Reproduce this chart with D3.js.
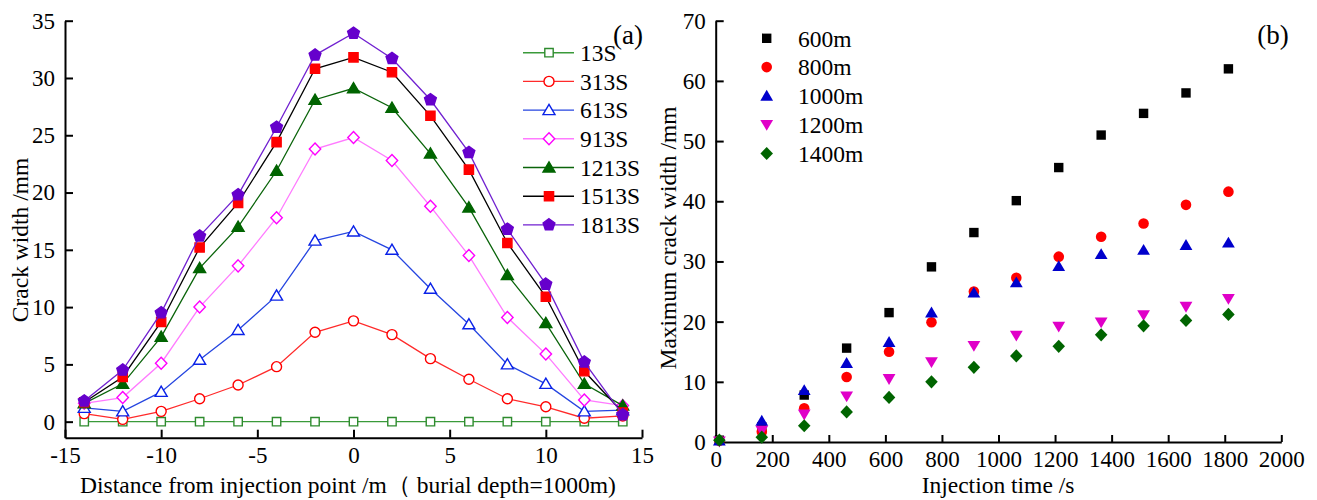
<!DOCTYPE html>
<html>
<head>
<meta charset="utf-8">
<script src="https://cdn.jsdelivr.net/npm/d3@7"></script>
<style>
  html, body { margin: 0; padding: 0; background: #fff; }
  svg text { font-family: "Liberation Serif", "Times New Roman", serif; fill: #000; }
</style>
</head>
<body>
<svg id="chart" width="1317" height="500"></svg>
<script>
// ---------- Data (a) ----------
const distance = [-14, -12, -10, -8, -6, -4, -2, 0, 2, 4, 6, 8, 10, 12, 14];
const w13S   = [0, 0, 0, 0, 0, 0, 0, 0, 0, 0, 0, 0, 0, 0, 0];
const w313S  = [0.7, 0.2, 0.9, 2.0, 3.2, 4.8, 7.8, 8.8, 7.6, 5.5, 3.7, 2.0, 1.3, 0.3, 0.5];
const w613S  = [1.2, 0.9, 2.6, 5.4, 8.0, 11.0, 15.8, 16.6, 15.0, 11.6, 8.5, 5.0, 3.3, 0.9, 1.0];
const w913S  = [1.6, 2.1, 5.1, 10.0, 13.6, 17.8, 23.8, 24.8, 22.8, 18.8, 14.5, 9.1, 5.9, 1.9, 1.4];
const w1213S = [1.6, 3.3, 7.4, 13.4, 17.0, 21.9, 28.1, 29.1, 27.4, 23.4, 18.7, 12.8, 8.6, 3.3, 1.4];
const w1513S = [1.7, 3.9, 8.7, 15.2, 19.1, 24.4, 30.8, 31.8, 30.5, 26.7, 22.0, 15.6, 10.9, 4.4, 0.8];
const w1813S = [1.8, 4.5, 9.5, 16.2, 19.8, 25.7, 32.0, 33.9, 31.7, 28.1, 23.5, 16.8, 12.0, 5.2, 0.6];
const seriesNamesA = ["13S", "313S", "613S", "913S", "1213S", "1513S", "1813S"];
const xTicksA = [-15, -10, -5, 0, 5, 10, 15];
const yTicksA = [0, 5, 10, 15, 20, 25, 30, 35];

// ---------- Data (b) ----------
const timeS  = [13, 163, 313, 463, 613, 763, 913, 1063, 1213, 1363, 1513, 1663, 1813];
const d600   = [0.3, 2.5, 7.8, 15.6, 21.5, 29.1, 34.8, 40.1, 45.6, 51.0, 54.6, 58.0, 62.0];
const d800   = [0.2, 1.7, 5.6, 10.8, 15.0, 19.9, 25.0, 27.3, 30.8, 34.1, 36.3, 39.4, 41.6];
const d1000  = [0.2, 3.5, 8.6, 13.1, 16.6, 21.5, 24.8, 26.5, 29.2, 31.2, 31.9, 32.7, 33.1];
const d1200  = [0.1, 1.9, 4.6, 7.6, 10.5, 13.3, 16.0, 17.7, 19.2, 19.9, 21.1, 22.5, 23.8];
const d1400  = [0.3, 0.8, 2.7, 5.0, 7.4, 10.0, 12.4, 14.3, 15.9, 17.8, 19.3, 20.2, 21.2];
const seriesNamesB = ["600m", "800m", "1000m", "1200m", "1400m"];
const xTicksB = [0, 200, 400, 600, 800, 1000, 1200, 1400, 1600, 1800, 2000];
const yTicksB = [0, 10, 20, 30, 40, 50, 60, 70];

// ---------- Styles ----------
const stylesA = [
  { line: "#3a9a3a", stroke: "#2e8b2e", fill: "#fff",    shape: "square",   size: 4.2 },
  { line: "#ff2a2a", stroke: "#ff0000", fill: "#fff",    shape: "circle",   size: 5.0 },
  { line: "#2545e0", stroke: "#0a22e8", fill: "#fff",    shape: "triangle", size: 6.0 },
  { line: "#ff7aff", stroke: "#ff00ff", fill: "#fff",    shape: "diamond",  size: 6.0 },
  { line: "#0a640a", stroke: "#006400", fill: "#006400", shape: "triangle", size: 6.0 },
  { line: "#000000", stroke: "#ff0000", fill: "#ff0000", shape: "square",   size: 4.6 },
  { line: "#7020d0", stroke: "#6600cc", fill: "#6600cc", shape: "pentagon", size: 6.2 }
];
const stylesB = [
  { color: "#000000", shape: "square",   size: 4.7 },
  { color: "#ff0000", shape: "circle",   size: 5.3 },
  { color: "#0000cc", shape: "triangle", size: 6.4 },
  { color: "#e000c8", shape: "invtri",   size: 6.4 },
  { color: "#006400", shape: "diamond",  size: 6.6 }
];

function shapePath(shape, s) {
  let pts;
  switch (shape) {
    case "square":
      return `M${-s},${-s}H${s}V${s}H${-s}Z`;
    case "circle":
      return `M${s},0A${s},${s} 0 1,1 ${-s},0A${s},${s} 0 1,1 ${s},0Z`;
    case "triangle":
      pts = [[0, -s * 0.95], [s, s * 0.75], [-s, s * 0.75]]; break;
    case "invtri":
      pts = [[0, s * 0.95], [s, -s * 0.75], [-s, -s * 0.75]]; break;
    case "diamond":
      pts = [[0, -s], [s * 0.95, 0], [0, s], [-s * 0.95, 0]]; break;
    case "pentagon":
      pts = d3.range(5).map(k => {
        const a = (-90 + k * 72) * Math.PI / 180;
        return [s * Math.cos(a), s * Math.sin(a)];
      });
      break;
  }
  return "M" + pts.map(p => p[0].toFixed(2) + "," + p[1].toFixed(2)).join("L") + "Z";
}

const svg = d3.select("#chart");
const FONT = 23.5;
const TICKFONT = 23;

// ================= Chart (a) =================
const seriesA = [w13S, w313S, w613S, w913S, w1213S, w1513S, w1813S];
const xA = d3.scaleLinear().domain([-15, 15]).range([65, 642]);
const yA = d3.scaleLinear().domain([-1.4, 35]).range([437.7, 20.7]);

const gA = svg.append("g");
const axisXA = d3.axisBottom(xA).tickValues(xTicksA).tickSizeInner(-8).tickSizeOuter(0).tickPadding(9)
  .tickFormat(d => d < 0 ? "-" + Math.abs(d) : String(d));
gA.append("g").attr("transform", `translate(0,${yA(-1.4)})`).call(axisXA);
const axisYA = d3.axisLeft(yA).tickValues(yTicksA).tickSizeInner(-8).tickSizeOuter(0).tickPadding(10)
  .tickFormat(d => String(d));
gA.append("g").attr("transform", `translate(${xA(-15)},0)`).call(axisYA);

const lineA = d3.line().x((d, i) => xA(distance[i])).y(d => yA(d));
seriesA.forEach((vals, si) => {
  const st = stylesA[si];
  const g = gA.append("g");
  g.append("path").datum(vals).attr("d", lineA)
    .attr("fill", "none").attr("stroke", st.line).attr("stroke-width", 1.3);
  g.selectAll("path.m").data(vals).enter().append("path").attr("class", "m")
    .attr("d", shapePath(st.shape, st.size))
    .attr("transform", (d, i) => `translate(${xA(distance[i])},${yA(d)})`)
    .attr("fill", st.fill).attr("stroke", st.stroke).attr("stroke-width", 1.4);
});

const legA = gA.append("g");
seriesNamesA.forEach((name, i) => {
  const st = stylesA[i];
  const y = 52.7 + i * 28.7;
  legA.append("line").attr("x1", 523).attr("x2", 574).attr("y1", y).attr("y2", y)
    .attr("stroke", st.line).attr("stroke-width", 1.4);
  legA.append("path").attr("d", shapePath(st.shape, st.size))
    .attr("transform", `translate(549,${y})`)
    .attr("fill", st.fill).attr("stroke", st.stroke).attr("stroke-width", 1.4);
  legA.append("text").attr("x", 580).attr("y", y).attr("dy", "0.35em")
    .attr("font-size", FONT).text(name);
});
gA.append("text").attr("x", 628).attr("y", 35).attr("dy", "0.35em").attr("text-anchor", "middle")
  .attr("font-size", 27).text("(a)");

gA.append("text").attr("x", 348).attr("y", 485).attr("dy", "0.35em").attr("text-anchor", "middle")
  .attr("font-size", FONT).text("Distance from injection point /m（ burial depth=1000m)");
gA.append("text").attr("transform", "translate(20,240) rotate(-90)").attr("dy", "0.35em")
  .attr("text-anchor", "middle").attr("font-size", FONT).text("Crack width /mm");

// ================= Chart (b) =================
const seriesB = [d600, d800, d1000, d1200, d1400];
const xB = d3.scaleLinear().domain([0, 2000]).range([715.7, 1281.3]);
const yB = d3.scaleLinear().domain([0, 70]).range([442, 20.7]);
const gB = svg.append("g");

const axisXB = d3.axisBottom(xB).tickValues(xTicksB).tickSizeInner(-7).tickSizeOuter(0).tickPadding(9)
  .tickFormat(d => String(d));
gB.append("g").attr("transform", `translate(0,${yB(0)})`).call(axisXB);
const axisYB = d3.axisLeft(yB).tickValues(yTicksB).tickSizeInner(-8).tickSizeOuter(0).tickPadding(10)
  .tickFormat(d => String(d));
gB.append("g").attr("transform", `translate(${xB(0)},0)`).call(axisYB);

seriesB.forEach((vals, si) => {
  const st = stylesB[si];
  gB.append("g").selectAll("path").data(vals).enter().append("path")
    .attr("d", shapePath(st.shape, st.size))
    .attr("transform", (d, i) => `translate(${xB(timeS[i])},${yB(d)})`)
    .attr("fill", st.color).attr("stroke", "none");
});

seriesNamesB.forEach((name, i) => {
  const st = stylesB[i];
  const y = 38.3 + i * 28.8;
  gB.append("path").attr("d", shapePath(st.shape, st.size))
    .attr("transform", `translate(766.7,${y})`).attr("fill", st.color);
  gB.append("text").attr("x", 798).attr("y", y).attr("dy", "0.35em")
    .attr("font-size", FONT).text(name);
});
gB.append("text").attr("x", 1273).attr("y", 35).attr("dy", "0.35em").attr("text-anchor", "middle")
  .attr("font-size", 27).text("(b)");

gB.append("text").attr("x", 998).attr("y", 485).attr("dy", "0.35em").attr("text-anchor", "middle")
  .attr("font-size", FONT).text("Injection time /s");
gB.append("text").attr("transform", "translate(668,238) rotate(-90)").attr("dy", "0.35em")
  .attr("text-anchor", "middle").attr("font-size", FONT).text("Maximum crack width /mm");

svg.selectAll(".domain").attr("stroke", "#000").attr("stroke-width", 2);
svg.selectAll(".tick line").attr("stroke", "#000").attr("stroke-width", 2);
svg.selectAll(".tick text").attr("font-size", TICKFONT).attr("font-family", "Liberation Serif, serif").attr("fill", "#000");
</script>
</body>
</html>
